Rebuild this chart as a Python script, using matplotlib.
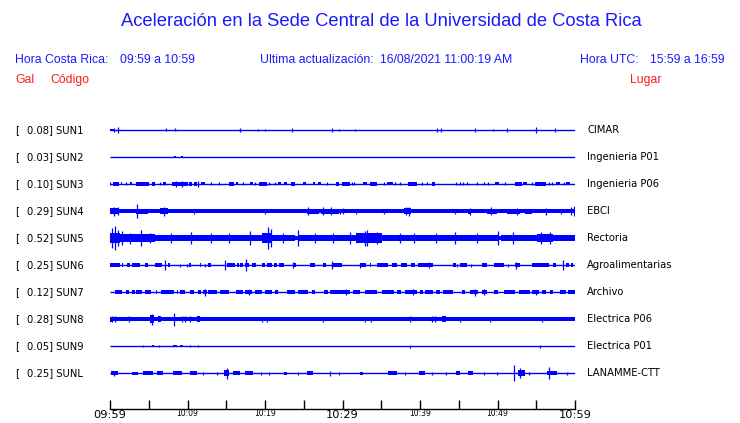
import matplotlib
matplotlib.use("Agg")
import matplotlib.pyplot as plt

# ---------------- data ----------------
TITLE = "Aceleración en la Sede Central de la Universidad de Costa Rica"
HORA_CR = "09:59 a 10:59"
ACTUALIZACION = "16/08/2021 11:00:19 AM"
HORA_UTC = "15:59 a 16:59"

CODES = ["SUN1", "SUN2", "SUN3", "SUN4", "SUN5", "SUN6", "SUN7", "SUN8", "SUN9", "SUNL"]
PEAKS = [0.08, 0.03, 0.10, 0.29, 0.52, 0.25, 0.12, 0.28, 0.05, 0.25]
PLACES = ["CIMAR", "Ingenieria P01", "Ingenieria P06", "EBCI", "Rectoria",
          "Agroalimentarias", "Archivo", "Electrica P06", "Electrica P01", "LANAMME-CTT"]

TICK_MINUTES = list(range(0, 61, 5))
TICK_LABELS = ["09:59", "", "10:09", "", "10:19", "", "10:29", "", "10:39", "", "10:49", "", "10:59"]
BIG_LABELS = ["09:59", "10:29", "10:59"]

# continuous background amplitude of each trace (display half-height)
BAND = [0.0, 0.0, 0.0, 1.7, 2.4, 0.0, 0.0, 1.9, 0.0, 0.0]

# bursts: (start minute, end minute, half amplitude)
SUN1_BURSTS = [(0.0, 0.6, 1.3)]
SUN1_SPIKES = [(0.56, 2), (0.99, 3), (7.27, 1.5), (8.43, 1.5), (16.77, 2), (19.14, 1.2),
               (20.04, 1), (23.53, 2), (28.69, 2), (29.59, 1), (31.66, 1), (42.24, 2),
               (42.71, 2), (47.14, 2), (49.46, 1), (51.27, 2), (55.01, 3), (57.46, 2)]

SUN2_BURSTS = [(8.2, 8.5, 1.3), (8.6, 8.7, 1.0), (9.2, 9.45, 1.3)]
SUN2_SPIKES = []

SUN3_BURSTS = [(0.4, 1.2, 1.8), (1.4, 1.6, 1.5), (2.6, 2.8, 1.5), (3.3, 5.0, 1.8), (5.4, 5.8, 1.8),
               (6.9, 7.2, 1.5), (8.0, 10.0, 2.2), (10.2, 10.6, 1.8), (10.8, 11.2, 1.8),
               (11.8, 12.2, 1.5), (15.4, 16.0, 1.8), (16.2, 16.5, 1.5), (18.1, 18.4, 1.5),
               (19.2, 20.3, 1.8), (21.7, 22.0, 1.5), (22.5, 22.8, 1.5), (23.4, 23.9, 1.8),
               (24.9, 25.3, 1.5), (26.2, 26.5, 1.5), (26.9, 27.2, 1.5), (29.2, 29.6, 1.8),
               (29.9, 31.0, 1.8), (32.6, 33.1, 1.5), (33.6, 34.4, 1.8), (35.8, 36.5, 1.5),
               (38.4, 39.6, 1.8), (41.6, 41.9, 1.8), (49.7, 50.2, 1.5), (52.3, 53.1, 1.8),
               (53.3, 53.8, 1.5), (54.8, 56.3, 1.8), (57.5, 58.1, 1.5), (58.8, 59.4, 1.5)]
SUN3_SPIKES = [(8.5, 3), (9.3, 3), (11.3, 3), (0.0, 1.5), (2.0, 1.5), (6.4, 1.5), (7.0, 1.5),
               (13.0, 1.5), (14.0, 1.5), (17.2, 1.5), (18.7, 1.5), (20.5, 1.5), (21.3, 1.5),
               (28.0, 1.5), (31.2, 1.5), (31.5, 1.5), (35.4, 1.5), (36.8, 1.5), (37.4, 1.5),
               (40.3, 1.5), (40.9, 1.5), (44.6, 1.5), (45.1, 1.5), (45.5, 1.5), (46.1, 1.5),
               (47.3, 1.5), (48.2, 1.5), (48.8, 1.5), (51.0, 1.5), (54.5, 1.5), (56.6, 1.5),
               (57.0, 1.5), (58.6, 1.5)]

SUN4_BURSTS = [(0.0, 1.1, 2.6), (1.3, 1.5, 2.3), (1.9, 2.1, 2.3), (2.4, 2.6, 2.3), (3.3, 4.9, 2.5),
               (5.4, 6.2, 2.3), (6.5, 7.5, 3.0), (7.8, 8.6, 2.3), (12.7, 14.4, 2.3),
               (14.6, 16.5, 2.3), (22.6, 25.2, 2.3), (25.4, 27.0, 2.5), (27.2, 29.5, 2.5),
               (37.9, 38.9, 2.7), (46.2, 46.6, 2.5), (48.6, 49.9, 2.5), (51.2, 52.9, 2.5),
               (53.5, 54.4, 2.5), (55.9, 56.6, 2.3)]
SUN4_SPIKES = [(0.5, 4.5), (1.0, 4), (3.5, 7), (7.0, 4.5), (10.9, 2.5), (20.0, 2.5), (25.5, 4),
               (27.5, 4), (28.5, 4), (29.7, 2.5), (30.0, 3), (31.7, 2.5), (35.4, 2.5), (38.2, 4),
               (38.6, 4.5), (44.5, 2.5), (46.4, 3.5), (49.2, 4), (52.5, 3.5), (56.2, 3.5),
               (58.2, 2.5), (59.5, 4), (59.9, 5)]

SUN5_BURSTS = [(0.0, 1.3, 5.0), (1.3, 3.2, 3.6), (3.2, 5.8, 3.6), (5.8, 7.1, 3.0), (7.1, 11.8, 3.4),
               (11.8, 19.6, 3.4), (19.6, 20.9, 5.0), (20.9, 23.9, 3.4), (24.3, 29.7, 3.4),
               (29.7, 31.8, 3.4), (31.8, 35.1, 4.6), (35.1, 38.6, 3.4), (38.6, 40.5, 2.7),
               (40.5, 44.0, 3.4), (44.0, 49.2, 3.4), (49.2, 50.0, 3.0), (50.5, 53.0, 3.4),
               (53.0, 55.1, 3.2), (55.1, 57.2, 4.0), (57.2, 60.0, 2.7)]
SUN5_SPIKES = [(0.2, 10), (0.65, 12), (1.0, 8), (1.6, 7), (2.6, 5.5), (3.96, 8), (5.2, 5), (7.9, 5),
               (10.5, 6), (13.0, 5), (15.4, 5), (18.06, 7), (20.4, 11), (20.8, 9), (22.3, 5),
               (24.2, 8), (26.5, 5), (28.8, 5), (31.0, 6), (32.9, 7.5), (33.2, 8), (34.5, 6),
               (37.4, 5), (39.2, 5), (42.0, 5), (44.5, 6), (47.3, 5), (50.1, 7), (52.0, 6),
               (55.6, 6), (56.8, 6)]

SUN6_BURSTS = [(0.0, 1.3, 1.7), (1.5, 1.7, 1.7), (2.2, 2.6, 1.7), (2.8, 3.9, 1.7), (4.5, 4.9, 1.7),
               (5.8, 6.7, 1.7), (7.5, 7.7, 1.7), (10.2, 10.4, 1.7), (11.6, 11.8, 1.7),
               (12.7, 13.0, 1.7), (15.1, 16.1, 1.7), (16.4, 16.6, 1.7), (16.8, 17.2, 1.7),
               (17.4, 17.9, 1.7), (18.3, 18.9, 1.7), (19.6, 20.0, 1.7), (20.2, 20.9, 1.7),
               (21.2, 21.5, 1.7), (21.8, 22.4, 1.7), (23.8, 24.0, 1.7), (25.8, 26.4, 1.7),
               (27.5, 27.9, 1.7), (28.6, 29.9, 1.7), (32.2, 33.0, 1.7), (33.5, 33.7, 1.7),
               (34.4, 35.9, 1.7), (36.4, 37.0, 1.7), (37.6, 38.3, 1.7), (38.8, 39.4, 1.7),
               (39.8, 41.7, 1.7), (44.3, 44.7, 1.7), (45.2, 46.0, 1.7), (48.0, 48.6, 1.7),
               (49.6, 50.8, 1.7), (52.3, 52.9, 1.7), (54.4, 56.6, 1.7), (57.2, 57.6, 1.7),
               (58.8, 59.2, 1.7), (59.5, 59.8, 1.7)]
SUN6_SPIKES = [(7.1, 5), (14.9, 5), (17.6, 6), (23.6, 3), (28.7, 4), (32.3, 2.5), (41.1, 3),
               (52.4, 3.5), (58.4, 5), (9.0, 1.5), (9.9, 1.5), (12.2, 1.5), (44.8, 1.5),
               (46.6, 1.5), (51.3, 1.5)]

SUN7_BURSTS = [(0.6, 1.5, 1.7), (2.0, 2.5, 1.7), (2.9, 3.2, 1.7), (3.4, 4.1, 1.7), (4.5, 5.3, 1.7),
               (5.9, 6.1, 1.7), (6.6, 8.3, 1.7), (8.6, 8.8, 1.7), (9.0, 9.7, 1.7), (10.3, 10.9, 1.7),
               (11.4, 11.8, 1.7), (12.0, 12.5, 1.7), (12.7, 13.8, 1.7), (14.2, 15.4, 1.7),
               (16.3, 17.2, 1.7), (17.4, 18.3, 1.7), (18.7, 19.6, 1.7), (20.0, 20.9, 1.7),
               (21.3, 21.7, 1.7), (22.8, 23.9, 1.7), (24.3, 25.6, 1.7), (26.0, 26.4, 1.7),
               (27.6, 28.1, 1.7), (28.4, 30.3, 1.7), (29.7, 31.0, 1.7), (31.4, 32.3, 1.7),
               (32.9, 34.4, 1.7), (35.1, 36.6, 1.7), (37.0, 37.6, 1.7), (38.1, 39.6, 1.7),
               (40.0, 40.4, 1.7), (40.7, 41.7, 1.7), (42.0, 42.6, 1.7), (43.0, 44.3, 1.7),
               (45.4, 45.8, 1.7), (46.4, 47.5, 1.7), (48.0, 48.6, 1.7), (49.5, 50.1, 1.7),
               (50.8, 52.3, 1.7), (52.8, 54.2, 1.7), (54.5, 55.3, 1.7), (55.7, 56.3, 1.7),
               (56.8, 57.2, 1.7), (58.0, 58.9, 1.7), (59.1, 60.0, 1.7)]
SUN7_SPIKES = [(12.3, 3.5), (17.9, 3), (30.4, 3), (39.1, 3), (47.1, 3.5), (48.3, 3), (55.0, 2.5)]

SUN8_BURSTS = [(0.0, 0.4, 2.5), (5.2, 5.7, 4.0), (6.2, 6.6, 3.0), (11.2, 11.6, 3.0), (42.9, 43.3, 3.0)]
SUN8_SPIKES = [(0.2, 3), (0.6, 3), (2.4, 3), (5.4, 5.5), (8.26, 6.5), (9.3, 3), (9.7, 3), (10.3, 3),
               (19.6, 2.5), (20.2, 2.5), (27.5, 2.5), (32.9, 2.5), (33.7, 2.5), (38.7, 3),
               (41.5, 3), (41.9, 3), (45.2, 2.5), (49.0, 2.5), (55.7, 2.5)]

SUN9_BURSTS = [(5.4, 5.7, 1.3), (8.1, 8.6, 1.3), (9.0, 9.4, 1.3)]
SUN9_SPIKES = [(4.3, 1.3), (6.3, 1.3), (10.3, 1.3), (11.4, 1.3), (38.7, 1.5), (55.5, 1.5)]

SUNL_BURSTS = [(0.1, 1.0, 2.0), (2.8, 3.6, 1.5), (4.2, 5.5, 2.3), (6.0, 6.8, 2.0), (8.1, 9.3, 1.8),
               (10.3, 11.2, 1.8), (14.7, 15.4, 3.2), (15.9, 16.8, 1.8), (17.4, 18.5, 1.8),
               (22.4, 22.8, 1.5), (25.4, 26.2, 1.8), (32.3, 32.7, 1.5), (35.9, 37.0, 1.8),
               (39.9, 40.6, 2.3), (44.6, 45.2, 1.8), (46.2, 46.8, 1.8), (52.6, 53.5, 3.2),
               (56.4, 57.7, 2.3)]
SUNL_SPIKES = [(0.5, 2.5), (15.1, 5.5), (28.4, 2.5), (52.1, 8), (52.9, 5), (56.6, 6), (12.0, 1.5),
               (13.8, 1.5), (19.5, 1.5), (20.5, 1.5), (24.2, 1.5), (29.5, 1.5), (38.0, 1.5),
               (41.6, 1.5), (43.3, 1.5), (48.3, 1.5), (49.9, 1.5), (54.0, 1.5), (59.0, 1.5)]

BURSTS = [SUN1_BURSTS, SUN2_BURSTS, SUN3_BURSTS, SUN4_BURSTS, SUN5_BURSTS,
          SUN6_BURSTS, SUN7_BURSTS, SUN8_BURSTS, SUN9_BURSTS, SUNL_BURSTS]
SPIKES = [SUN1_SPIKES, SUN2_SPIKES, SUN3_SPIKES, SUN4_SPIKES, SUN5_SPIKES,
          SUN6_SPIKES, SUN7_SPIKES, SUN8_SPIKES, SUN9_SPIKES, SUNL_SPIKES]

# ---------------- layout / style ----------------
W, H = 740, 423
BLUE_T = "#1a1aff"
BLUE = "#0000ff"
RED = "#ff1a1a"
SANS = ["Liberation Sans", "DejaVu Sans"]
DJV = ["DejaVu Sans"]
ROW0, ROWSTEP = 130, 27


def fx(px):
    return px / W


def fy(py):
    return 1 - py / H


fig = plt.figure(figsize=(W / 100, H / 100), dpi=100)
fig.patch.set_facecolor("white")

fig.text(fx(381), fy(22), TITLE, color=BLUE_T, family=SANS, fontsize=13.2, ha="center", va="center")

hy = fy(60)
fig.text(fx(15), hy, "Hora Costa Rica:", color=BLUE_T, family=SANS, fontsize=8.8, va="center")
fig.text(fx(120), hy, HORA_CR, color=BLUE_T, family=SANS, fontsize=8.8, va="center")
fig.text(fx(260), hy, "Ultima actualización:", color=BLUE_T, family=SANS, fontsize=8.8, va="center")
fig.text(fx(380), hy, ACTUALIZACION, color=BLUE_T, family=SANS, fontsize=8.8, va="center")
fig.text(fx(580), hy, "Hora UTC:", color=BLUE_T, family=SANS, fontsize=8.8, va="center")
fig.text(fx(650), hy, HORA_UTC, color=BLUE_T, family=SANS, fontsize=8.8, va="center")

ry = fy(80)
fig.text(fx(15), ry, "Gal", color=RED, family=SANS, fontsize=8.8, va="center")
fig.text(fx(50), ry, "Código", color=RED, family=SANS, fontsize=8.8, va="center")
fig.text(fx(630), ry, "Lugar", color=RED, family=SANS, fontsize=8.8, va="center")

ax = fig.add_axes([fx(110), fy(409), fx(575) - fx(110), fy(110) - fy(409)])
ax.set_xlim(0, 60)
ax.set_ylim(409, 110)
ax.patch.set_alpha(0)
for s in ["top", "left", "right"]:
    ax.spines[s].set_visible(False)
ax.spines["bottom"].set_linewidth(1.0)
ax.set_yticks([])

for i, code in enumerate(CODES):
    yc = ROW0 + i * ROWSTEP
    ax.hlines(yc, 0, 60, color=BLUE, lw=1.0)
    if BAND[i] > 0:
        ax.broken_barh([(0, 60)], (yc - BAND[i], 2 * BAND[i]), facecolor=BLUE, edgecolor="none")
    for (s, e, a) in BURSTS[i]:
        ax.broken_barh([(s, e - s)], (yc - a, 2 * a), facecolor=BLUE, edgecolor="none")
    for (m, a) in SPIKES[i]:
        ax.vlines(m, yc - a, yc + a, color=BLUE, lw=0.9)

    ty = fy(yc)
    fig.text(fx(15), ty, "[", family=DJV, fontsize=7.2, va="center", color="black")
    fig.text(fx(27), ty, f"{PEAKS[i]:.2f}] {code}", family=DJV, fontsize=7.2, va="center", color="black")
    fig.text(fx(587), ty, PLACES[i], family=DJV, fontsize=7.2, va="center", color="black")

ax.set_xticks(TICK_MINUTES)
ax.set_xticklabels(TICK_LABELS)
ax.tick_params(axis="x", direction="in", length=6.5, width=1.0, pad=1, colors="black")
for lab in ax.get_xticklabels():
    if lab.get_text() in BIG_LABELS:
        lab.set_fontsize(8.2)
    else:
        lab.set_fontsize(5.5)
        lab.set_y(0.004)

fig.savefig("out.png", dpi=100, facecolor="white")
